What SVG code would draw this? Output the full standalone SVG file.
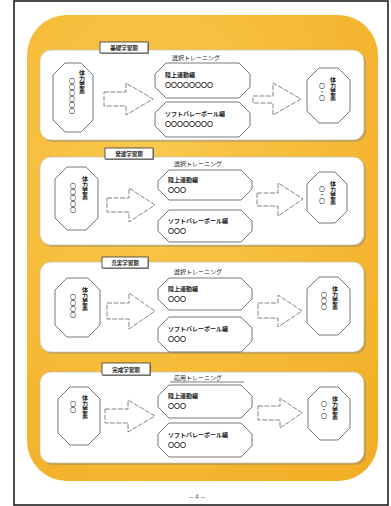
<svg xmlns="http://www.w3.org/2000/svg" width="391" height="506" viewBox="0 0 391 506">
<style>
.frame{fill:#fff;stroke:#111;stroke-width:1.5}
.panel{fill:#fff;stroke:#bbb;stroke-width:0.6}
.shadow{fill:#8a8270;opacity:0.4}
.tab{fill:#fff;stroke:#333;stroke-width:0.8}
.tabshadow{fill:#555;opacity:0.6}
.oct{fill:#fff;stroke:#555;stroke-width:0.8}
.arrow{fill:#fff;stroke:#666;stroke-width:0.8;stroke-dasharray:5 1.5}
.uline{stroke:#444;stroke-width:0.7}
text{font-family:"Noto Sans CJK JP","Noto Sans",sans-serif;fill:#222}
.t{font-size:5.5px;font-weight:bold}
.h{font-size:6px}
.b{font-size:6px;font-weight:bold}
.v{font-size:6px;writing-mode:vertical-rl}
.vb{font-size:6px;font-weight:bold;writing-mode:vertical-rl}
.pg{font-size:6px;fill:#555}
</style>
<defs>
<radialGradient id="og" cx="0.35" cy="0.3" r="0.9">
<stop offset="0" stop-color="#F9C94E"/>
<stop offset="1" stop-color="#F2AE25"/>
</radialGradient>
</defs>
<rect class="frame" x="14" y="1" width="374" height="504"/>
<rect x="27" y="15" width="351" height="466" rx="40" fill="url(#og)"/>

<!-- Panel 1 -->
<g id="panel1">
<rect class="shadow" x="42" y="52" width="324" height="90" rx="11"/>
<rect class="panel" x="40" y="50" width="324" height="90" rx="11"/>
<rect class="tabshadow" x="101" y="43" width="48" height="11"/>
<rect class="tab" x="100" y="42" width="48" height="11"/>
<text class="t" x="124" y="50" text-anchor="middle">基礎学習期</text>
<text class="h" x="172" y="60">選択トレーニング</text>
</g>
<g id="p1-left"><polygon class="oct" points="65,63 81,63 93,75 93,120 81,132 65,132 53,120 53,75"/>
<text class="vb" x="82" y="70">体力要素</text><text class="v" x="72" y="78">〇〇〇〇〇〇</text></g>
<g id="p1-top"><polygon class="oct" points="166,63 239,63 250,74 250,87 239,98 166,98 155,87 155,74"/>
<text class="b" x="165" y="77">陸上運動編</text><text class="b" x="165" y="87">〇〇〇〇〇〇〇〇</text></g>
<g id="p1-bot"><polygon class="oct" points="166,102 239,102 250,113 250,126 239,137 166,137 155,126 155,113"/>
<text class="b" x="165" y="116">ソフトバレーボール編</text><text class="b" x="165" y="126">〇〇〇〇〇〇〇〇</text></g>
<g id="p1-right"><polygon class="oct" points="319,68 338,68 350,80 350,111 338,123 319,123 307,111 307,80"/>
<text class="vb" x="333" y="77">体力要素</text><text class="v" x="322" y="83">〇・〇</text></g>

<!-- Panel 2 -->
<g id="panel2">
<rect class="shadow" x="42" y="159" width="324" height="88" rx="11"/>
<rect class="panel" x="40" y="157" width="324" height="88" rx="11"/>
<rect class="tabshadow" x="106" y="149" width="48" height="11"/>
<rect class="tab" x="105" y="148" width="48" height="11"/>
<text class="t" x="129" y="156" text-anchor="middle">発達学習期</text>
<text class="h" x="174" y="166">選択トレーニング</text>
</g>
<g id="p2-left"><polygon class="oct" points="67,167 86,167 98,179 98,218 86,230 67,230 55,218 55,179"/>
<text class="vb" x="85" y="176">体力要素</text><text class="v" x="73" y="183">〇〇〇〇〇</text></g>
<g id="p2-top"><polygon class="oct" points="169,170 241,170 252,181 252,189 241,200 169,200 158,189 158,181"/>
<text class="b" x="168" y="182">陸上運動編</text><text class="b" x="168" y="192">〇〇〇</text></g>
<g id="p2-bot"><polygon class="oct" points="169,210 241,210 252,221 252,231 241,242 169,242 158,231 158,221"/>
<text class="b" x="168" y="223">ソフトバレーボール編</text><text class="b" x="168" y="233">〇〇〇</text></g>
<g id="p2-right"><polygon class="oct" points="319,172 335,172 347,184 347,211 335,223 319,223 307,211 307,184"/>
<text class="vb" x="333" y="181">体力要素</text><text class="v" x="322" y="186">〇・〇</text></g>

<!-- Panel 3 -->
<g id="panel3">
<rect class="shadow" x="42" y="264" width="324" height="90" rx="11"/>
<rect class="panel" x="40" y="262" width="324" height="90" rx="11"/>
<rect class="tabshadow" x="103" y="258" width="46" height="11"/>
<rect class="tab" x="102" y="257" width="46" height="11"/>
<text class="t" x="125" y="265" text-anchor="middle">充実学習期</text>
<text class="h" x="174" y="274">選択トレーニング</text>
</g>
<g id="p3-left"><polygon class="oct" points="67,278 88,278 100,290 100,325 88,337 67,337 55,325 55,290"/>
<text class="vb" x="85" y="287">体力要素</text><text class="v" x="73" y="294">〇〇〇〇</text></g>
<g id="p3-top"><polygon class="oct" points="169,278 241,278 252,289 252,299 241,310 169,310 158,299 158,289"/>
<text class="b" x="168" y="291">陸上運動編</text><text class="b" x="168" y="301">〇〇〇</text></g>
<g id="p3-bot"><polygon class="oct" points="169,317 241,317 252,328 252,341 241,352 169,352 158,341 158,328"/>
<text class="b" x="168" y="331">ソフトバレーボール編</text><text class="b" x="168" y="341">〇〇〇</text></g>
<g id="p3-right"><polygon class="oct" points="319,277 338,277 350,289 350,323 338,335 319,335 307,323 307,289"/>
<text class="vb" x="335" y="286">体力要素</text><text class="v" x="324" y="292">〇〇〇</text></g>

<!-- Panel 4 -->
<g id="panel4">
<rect class="shadow" x="42" y="374" width="324" height="91" rx="11"/>
<rect class="panel" x="40" y="372" width="324" height="91" rx="11"/>
<rect class="tabshadow" x="103" y="364" width="48" height="12"/>
<rect class="tab" x="102" y="363" width="48" height="12"/>
<text class="t" x="126" y="371.5" text-anchor="middle">完成学習期</text>
<text class="h" x="174" y="380">応用トレーニング</text>
<line class="uline" x1="170" y1="382" x2="244" y2="382"/>
</g>
<g id="p4-left"><polygon class="oct" points="70,387 88,387 100,399 100,433 88,445 70,445 58,433 58,399"/>
<text class="vb" x="85" y="395">体力要素</text><text class="v" x="73" y="401">〇〇</text></g>
<g id="p4-top"><polygon class="oct" points="169,385 241,385 252,396 252,407 241,418 169,418 158,407 158,396"/>
<text class="b" x="168" y="398">陸上運動編</text><text class="b" x="168" y="408">〇〇〇</text></g>
<g id="p4-bot"><polygon class="oct" points="169,423 241,423 252,434 252,446 241,457 169,457 158,446 158,434"/>
<text class="b" x="168" y="437">ソフトバレーボール編</text><text class="b" x="168" y="447">〇〇〇</text></g>
<g id="p4-right"><polygon class="oct" points="320,387 338,387 350,399 350,428 338,440 320,440 308,428 308,399"/>
<text class="vb" x="335" y="396">体力要素</text><text class="v" x="324" y="401">〇・〇</text></g>

<!-- Connectors -->
<g id="connectors">
<polygon class="arrow" points="104,92 126,92 126,83 153,99 126,115 126,106 104,106"/>
<polygon class="arrow" points="253,96 273,96 273,83 301,99 273,115 273,103 253,103"/>
<polygon class="arrow" points="107,198 129,198 129,188 155,205 129,222 129,212 107,212"/>
<polygon class="arrow" points="257,193 278,193 278,183 303,199 278,216 278,206 257,206"/>
<polygon class="arrow" points="107,303 129,303 129,293 155,311 129,329 129,319 107,319"/>
<polygon class="arrow" points="258,303 278,303 278,295 302,311 278,327 278,318 258,318"/>
<polygon class="arrow" points="105,409 128,409 128,400 155,416 128,432 128,423 105,423"/>
<polygon class="arrow" points="258,406 280,406 280,398 302,413 280,428 280,420 258,420"/>
</g>
<text class="pg" x="197" y="499" text-anchor="middle">－ 4 －</text>
</svg>
